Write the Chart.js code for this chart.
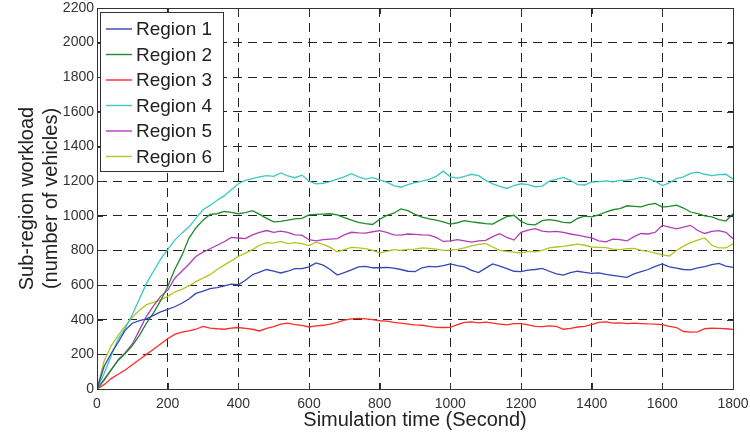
<!DOCTYPE html>
<html><head><meta charset="utf-8">
<script src="https://cdn.jsdelivr.net/npm/chart.js@4.4.0/dist/chart.umd.min.js"></script>
<style>html,body{margin:0;padding:0;background:#fff}#wrap{width:750px;height:436px}</style>
</head><body><div id="wrap"><canvas id="c" width="750" height="436"></canvas></div>
<script>
const times = [0,20,40,60,80,100,120,140,160,180,200,220,240,260,280,300,320,340,360,380,400,420,440,460,480,500,520,540,560,580,600,620,640,660,680,700,720,740,760,780,800,820,840,860,880,900,920,940,960,980,1000,1020,1040,1060,1080,1100,1120,1140,1160,1180,1200,1220,1240,1260,1280,1300,1320,1340,1360,1380,1400,1420,1440,1460,1480,1500,1520,1540,1560,1580,1600,1620,1640,1660,1680,1700,1720,1740,1760,1780,1800];
const seriesNames = ['Region 1','Region 2','Region 3','Region 4','Region 5','Region 6'];
const region1 = [0,130,205,270,340,380,395,405,425,445,460,475,495,520,552,565,580,585,595,605,602,628,660,675,690,680,670,680,695,695,705,728,715,690,658,672,688,705,708,700,700,702,698,690,680,678,700,708,705,712,722,712,705,685,672,698,722,710,695,680,678,686,690,696,680,665,658,672,680,674,668,670,662,656,650,645,665,678,690,708,722,705,698,690,688,700,706,718,725,710,702];
const region2 = [0,50,110,165,205,250,310,380,440,510,590,690,770,870,930,975,1008,1012,1025,1020,1012,1018,1030,1008,985,965,968,975,982,985,1005,1008,1010,1012,1005,990,975,962,955,950,980,1002,1015,1040,1030,1008,992,982,975,965,952,960,972,965,960,955,952,975,995,1003,968,950,948,972,978,972,962,960,985,998,994,1005,1022,1035,1042,1058,1055,1052,1065,1072,1050,1055,1062,1045,1022,1012,1000,994,978,970,1012];
const region3 = [0,25,60,85,110,140,170,200,230,260,290,315,328,335,345,362,352,348,345,352,355,350,345,335,350,360,375,380,372,368,358,365,368,375,385,398,405,408,405,400,394,392,385,380,375,370,368,362,356,355,356,372,385,388,382,386,380,375,370,378,378,370,362,360,365,362,345,350,358,362,372,385,388,380,382,378,380,378,376,375,372,362,355,332,328,330,348,352,350,348,344];
const region4 = [0,90,190,290,350,430,520,610,680,750,805,860,900,935,985,1035,1060,1090,1115,1150,1185,1205,1215,1225,1232,1228,1248,1230,1220,1235,1200,1185,1188,1198,1212,1225,1243,1225,1212,1220,1208,1195,1175,1165,1180,1192,1200,1210,1228,1258,1225,1218,1228,1240,1232,1205,1185,1170,1158,1175,1185,1180,1168,1172,1200,1210,1222,1205,1180,1178,1195,1198,1202,1196,1205,1206,1212,1222,1215,1200,1175,1190,1215,1225,1245,1252,1240,1232,1238,1240,1212];
const region5 = [0,55,110,170,210,260,340,420,480,535,570,640,680,720,765,790,810,830,850,875,872,868,890,905,915,905,912,905,890,888,862,855,862,865,868,890,905,902,900,908,915,905,890,888,895,893,890,888,875,852,855,862,855,848,855,858,880,897,875,860,905,918,926,912,907,910,905,895,888,880,872,855,850,865,862,855,880,898,895,905,945,935,925,935,945,915,898,910,915,905,868];
const region6 = [0,160,250,310,365,415,455,487,500,515,535,560,575,595,620,640,660,690,715,740,765,785,805,830,845,842,852,840,845,840,828,848,835,818,792,805,818,815,810,800,786,795,805,800,806,808,815,812,808,800,802,806,815,826,835,840,820,800,795,790,785,795,792,800,815,820,824,830,836,830,820,818,816,808,805,810,812,800,795,785,775,768,800,825,845,860,872,830,815,815,838];
const seriesValues = [region1, region2, region3, region4, region5, region6];
const seriesColors = ['#3346b4','#1f8a2a','#ff2a2a','#3cc8c0','#b23cb8','#b4c422'];
const xTickMin = 0, xTickMax = 1800, xTickStep = 200;
const yTickMin = 0, yTickMax = 2200, yTickStep = 200;

const FONT = "'Liberation Sans', Arial, Helvetica, sans-serif";

const frame = {
  id: 'frame',
  afterDraw(chart) {
    const {ctx, chartArea: a, scales} = chart;
    ctx.save();
    ctx.strokeStyle = '#333';
    ctx.lineWidth = 1;
    ctx.setLineDash([]);
    const tl = 6;
    ctx.beginPath();
    scales.x.ticks.forEach(t => {
      const px = Math.round(scales.x.getPixelForValue(t.value)) + 0.5;
      ctx.moveTo(px, a.bottom); ctx.lineTo(px, a.bottom - tl);
      ctx.moveTo(px, a.top); ctx.lineTo(px, a.top + tl);
    });
    scales.y.ticks.forEach(t => {
      const py = Math.round(scales.y.getPixelForValue(t.value)) + 0.5;
      ctx.moveTo(a.left, py); ctx.lineTo(a.left + tl, py);
      ctx.moveTo(a.right, py); ctx.lineTo(a.right - tl, py);
    });
    ctx.stroke();
    ctx.strokeRect(Math.round(a.left) + 0.5, Math.round(a.top) + 0.5, Math.round(a.right - a.left), Math.round(a.bottom - a.top));
    const lx = a.left + 3, ly = a.top + 4, lw = 123, lh = 159;
    ctx.fillStyle = '#fff';
    ctx.fillRect(lx, ly, lw, lh);
    ctx.strokeStyle = '#333';
    ctx.strokeRect(Math.round(lx) + 0.5, Math.round(ly) + 0.5, lw, lh);
    ctx.font = "19px " + FONT;
    ctx.textBaseline = 'middle';
    ctx.textAlign = 'left';
    chart.data.datasets.forEach((ds, i) => {
      const cy = ly + 17 + i * 25.5;
      ctx.strokeStyle = ds.borderColor;
      ctx.lineWidth = 1.4;
      ctx.beginPath(); ctx.moveTo(lx + 6, cy); ctx.lineTo(lx + 32, cy); ctx.stroke();
      ctx.fillStyle = '#222';
      ctx.fillText(ds.label, lx + 36, cy + 1);
    });
    ctx.restore();
  }
};

new Chart(document.getElementById('c'), {
  type: 'line',
  data: {
    datasets: seriesNames.map((name, i) => ({
      label: name,
      data: times.map((t, j) => ({x: t, y: seriesValues[i][j]})),
      borderColor: seriesColors[i],
      backgroundColor: seriesColors[i],
      borderWidth: 1.3,
      pointRadius: 0,
      tension: 0,
      fill: false
    }))
  },
  options: {
    responsive: false,
    devicePixelRatio: 1,
    animation: false,
    layout: {padding: {top: 8, right: 17, left: 0, bottom: 0}},
    plugins: {legend: {display: false}, tooltip: {enabled: false}},
    scales: {
      x: {
        type: 'linear', min: xTickMin, max: xTickMax,
        ticks: {stepSize: xTickStep, autoSkip: false, font: {size: 14, family: FONT}, color: '#333', padding: 7, maxRotation: 0, callback: v => String(v)},
        grid: {color: '#222', drawTicks: false, lineWidth: 1},
        border: {display: true, color: '#333', dash: [9, 6]},
        title: {display: true, text: 'Simulation time (Second)', font: {size: 20, family: FONT}, color: '#222', padding: {top: 0, bottom: 3.5}},
        afterFit(s) { s.height = 47; s.paddingLeft = 0; s.paddingRight = 0; }
      },
      y: {
        type: 'linear', min: yTickMin, max: yTickMax,
        ticks: {stepSize: yTickStep, autoSkip: false, font: {size: 14, family: FONT}, color: '#333', padding: 3, callback: v => String(v)},
        grid: {color: '#222', drawTicks: false, lineWidth: 1},
        border: {display: true, color: '#333', dash: [9, 6]},
        title: {display: true, text: ['Sub-region workload', '(number of vehicles)'], font: {size: 20, family: FONT}, color: '#222', padding: {top: 15, bottom: 0}},
        afterFit(s) { s.width = 97; s.paddingTop = 0; s.paddingBottom = 0; }
      }
    }
  },
  plugins: [frame]
});
</script></body></html>
